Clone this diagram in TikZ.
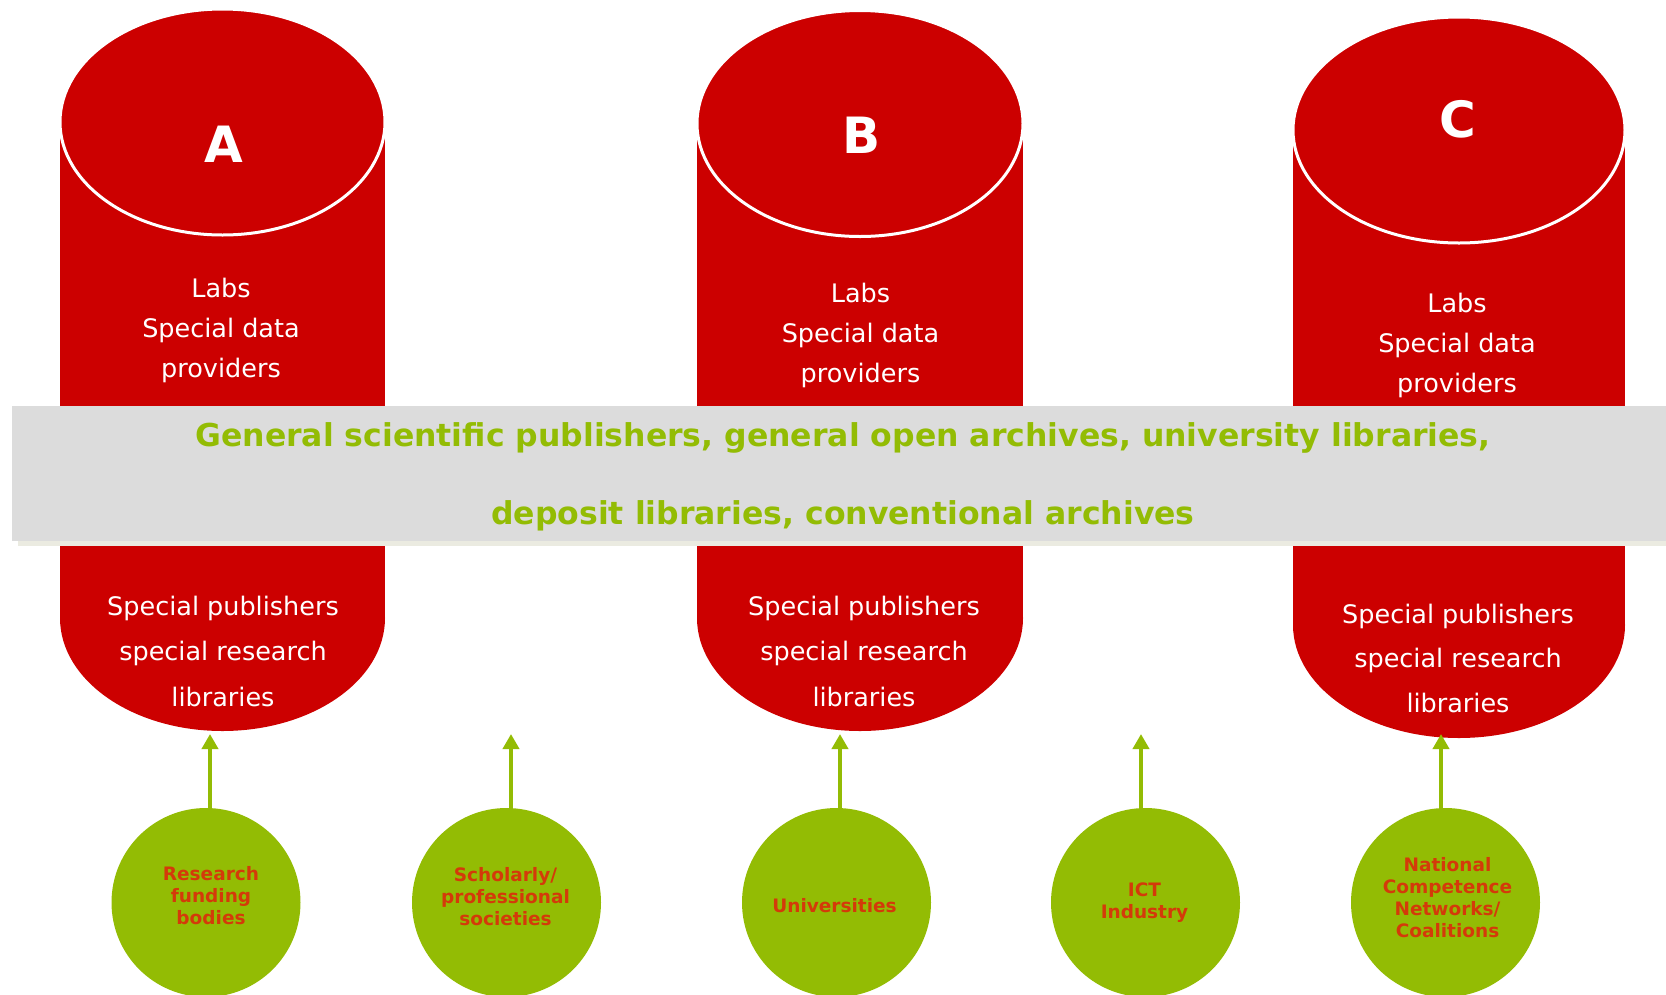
\documentclass[tikz,border=0pt]{standalone}
\usepackage{fontspec}
\setmainfont{DejaVu Sans}
\usetikzlibrary{arrows.meta}
\definecolor{cylred}{RGB}{204,0,0}
\definecolor{leaf}{RGB}{147,188,4}
\definecolor{bandgray}{RGB}{220,220,220}
\definecolor{bandshadow}{RGB}{235,235,225}
\definecolor{orgtext}{RGB}{212,58,10}
\newcommand\mycylinder[5]{% cx, cy top, cy bottom, rx, ry
  \fill[cylred] (#1-#4,#2) rectangle (#1+#4,#3);
  \fill[cylred] (#1,#3) ellipse [x radius=#4, y radius=#5];
  \filldraw[fill=cylred,draw=white,line width=3pt] (#1,#2) ellipse [x radius=#4, y radius=#5];
}
\begin{document}
\begin{tikzpicture}[x=1pt,y=-1pt,
  cyltext/.style={text=white,font=\fontsize{25.5}{30}\selectfont,anchor=base,inner sep=0pt},
  letter/.style={text=white,font=\bfseries\fontsize{50}{60}\selectfont,anchor=base,inner sep=0pt},
  bandtext/.style={text=leaf,font=\bfseries\fontsize{31.5}{38}\selectfont,anchor=base,inner sep=0pt},
  org/.style={circle,fill=leaf,minimum size=189pt,inner sep=0pt},
  orgtxt/.style={align=center,inner sep=0pt,text=orgtext,font=\bfseries\fontsize{18.5}{22}\selectfont},
  feed/.style={draw=leaf,line width=4pt,-{Triangle[length=15pt,width=16pt]}},
]
\useasboundingbox (0,0) rectangle (1666,994);

% cylinders
\mycylinder{222.5}{122}{618}{162.5}{113}
\mycylinder{860}{123.5}{618}{163}{113}
\mycylinder{1459}{130}{625}{166}{113}

% band
\fill[bandshadow] (18,411) rectangle (1666,546);
\fill[bandgray] (12,406) rectangle (1666,541);
\node[bandtext] (band1) at (843,446) {General scientific publishers, general open archives, university libraries,};
\node[bandtext] (band2) at (843,524) {deposit libraries, conventional archives};

% cylinder A
\node[letter] (lA) at (224,162) {A};
\node[cyltext] (a1) at (221,297) {Labs};
\node[cyltext] (a2) at (221,337) {Special data};
\node[cyltext] (a3) at (221,377) {providers};
\node[cyltext] (a4) at (223,615) {Special publishers};
\node[cyltext] (a5) at (223,660) {special research};
\node[cyltext] (a6) at (223,706) {libraries};

% cylinder B
\node[letter] (lB) at (862,153) {B};
\node[cyltext] (b1) at (860.5,302) {Labs};
\node[cyltext] (b2) at (860.5,342) {Special data};
\node[cyltext] (b3) at (860.5,382) {providers};
\node[cyltext] (b4) at (864,615) {Special publishers};
\node[cyltext] (b5) at (864,660) {special research};
\node[cyltext] (b6) at (864,706) {libraries};

% cylinder C
\node[letter] (lC) at (1458,137) {C};
\node[cyltext] (c1t) at (1457,312) {Labs};
\node[cyltext] (c2t) at (1457,352) {Special data};
\node[cyltext] (c3t) at (1457,392) {providers};
\node[cyltext] (c4t) at (1458,623) {Special publishers};
\node[cyltext] (c5t) at (1458,667) {special research};
\node[cyltext] (c6t) at (1458,712) {libraries};

% stakeholder circles
\node[org] (o1) at (206,902.5) {};
\node[org] (o2) at (506.5,902.5) {};
\node[org] (o3) at (836.5,902.5) {};
\node[org] (o4) at (1145.5,902.5) {};
\node[org] (o5) at (1445.5,902.5) {};
\node[orgtxt,xshift=5pt,yshift=6.5pt] (o1t) at (o1.center) {Research\\funding\\bodies};
\node[orgtxt,xshift=-1pt,yshift=6pt] (o2t) at (o2.center) {Scholarly/\\professional\\societies};
\node[orgtxt,xshift=-2pt,yshift=-3pt] (o3t) at (o3.center) {Universities};
\node[orgtxt,xshift=-1pt,yshift=0pt] (o4t) at (o4.center) {ICT\\Industry};
\node[orgtxt,xshift=2pt,yshift=5pt] (o5t) at (o5.center) {National\\Competence\\Networks/\\Coalitions};

% arrow tips
\coordinate (t1) at (210,734);
\coordinate (t2) at (511,734);
\coordinate (t3) at (840,734);
\coordinate (t4) at (1141,734);
\coordinate (t5) at (1441,734);

\draw[feed] (t1 |- o1.north) -- (t1);
\draw[feed] (t2 |- o2.north) -- (t2);
\draw[feed] (t3 |- o3.north) -- (t3);
\draw[feed] (t4 |- o4.north) -- (t4);
\draw[feed] (t5 |- o5.north) -- (t5);
\end{tikzpicture}
\end{document}
